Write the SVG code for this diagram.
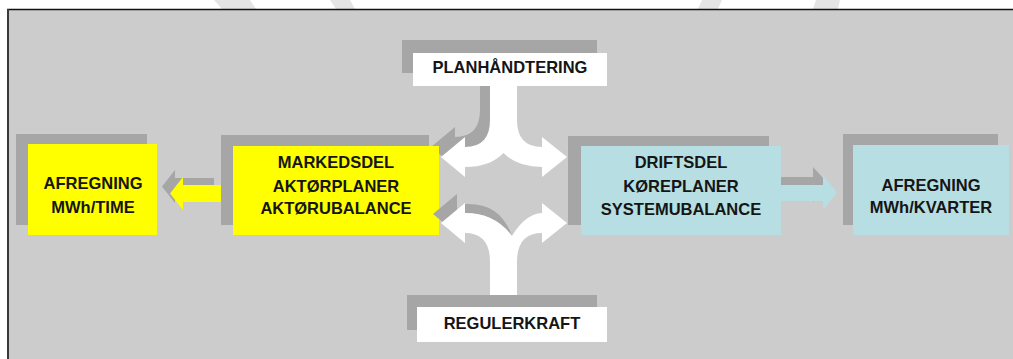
<svg xmlns="http://www.w3.org/2000/svg" width="1013" height="359" viewBox="0 0 1013 359">
<style>
.sh{fill:#a6a6a6}
.wh{fill:#ffffff}
.ye{fill:#ffff00}
.bl{fill:#b7dee2}
.t{font-family:"Liberation Sans",Arial,sans-serif;font-weight:bold;font-size:16.5px;fill:#151515;text-anchor:middle}
.wm{fill:#e4e4e4}
</style>
<rect x="0" y="0" width="1013" height="359" fill="#ffffff"/>
<g id="watermark">
<polygon class="wm" points="214,0 250,0 256,9 222,9"/>
<polygon class="wm" points="330,0 350,0 355,9 336,9"/>
<polygon class="wm" points="702,0 722,0 718,9 698,9"/>
<polygon class="wm" points="816,0 840,0 838,9 813,9"/>
</g>
<g id="frame">
<rect x="8" y="9.5" width="1005" height="350" fill="#cccccc"/>
<line x1="7" y1="9.5" x2="1013" y2="9.5" stroke="#111" stroke-width="1.6"/>
<line x1="8" y1="9" x2="8" y2="359" stroke="#3a3a3a" stroke-width="2"/>
</g>
<g id="connectors">
<path class="sh" d="M214,178 L175,178 L175,170 L162,186.5 L175,203 L175,195 L214,195 Z"/>
<path class="ye" d="M222,185 L183,185 L183,177 L170,193.5 L183,210 L183,202 L222,202 Z"/>
<path class="sh" d="M781,177 L813,177 L813,167 L829,184.5 L813,202 L813,193 L781,193 Z"/>
<path class="bl" d="M781,185 L823,185 L823,175 L837,192.5 L823,210 L823,201 L781,201 Z"/>
</g>
<g id="afregning-time">
<rect class="sh" x="16" y="134" width="131" height="91"/>
<rect class="ye" x="28" y="144" width="129" height="91"/>
<text class="t" x="93" y="189">AFREGNING</text>
<text class="t" x="93" y="213">MWh/TIME</text>
</g>
<g id="markedsdel-shadow">
<rect class="sh" x="221" y="135" width="208" height="90"/>
</g>
<g id="fork-top-shadow">
<path class="sh" d="M480,74 L480,110 Q480,137 455,137 L455,127 L431,147 L455,167 L455,157 Q480,157 494,143 L494,74 Z"/>
</g>
<g id="markedsdel">
<rect class="ye" x="233" y="146" width="206" height="89"/>
<text class="t" x="336" y="168">MARKEDSDEL</text>
<text class="t" x="336" y="191.5">AKTØRPLANER</text>
<text class="t" x="336" y="214">AKTØRUBALANCE</text>
</g>
<g id="driftsdel">
<rect class="sh" x="568" y="136" width="201" height="89"/>
<rect class="bl" x="581" y="146" width="200" height="89"/>
<text class="t" x="681" y="168">DRIFTSDEL</text>
<text class="t" x="681" y="191.5">KØREPLANER</text>
<text class="t" x="681" y="214.5">SYSTEMUBALANCE</text>
</g>
<g id="afregning-kvarter">
<rect class="sh" x="843" y="134" width="155" height="91"/>
<rect class="bl" x="853" y="145" width="156" height="90"/>
<text class="t" x="931" y="191">AFREGNING</text>
<text class="t" x="931" y="213">MWh/KVARTER</text>
</g>
<g id="fork-top">
<path class="wh" d="M490,84 L490,120 Q490,147 465,147 L465,137 L441,157 L465,177 L465,167 Q490,167 503.5,153 Q517,167 542,167 L542,177 L567,157 L542,137 L542,147 Q517,147 517,120 L517,84 Z"/>
</g>
<g id="fork-bottom">
<path class="sh" d="M465,204 Q500,202 512,236 Q495,213 465,213 Z"/>
<path class="sh" d="M457,204 L457,194 L433,214 L457,234 L457,224 Z"/>
<path class="wh" d="M490,298 L490,262 Q490,233 465,233 L465,243 L441,223 L465,203 L465,213 Q495,213 512,236 Q525,214 542,213 L542,203 L567,223 L542,243 L542,233 Q517,233 517,262 L517,298 Z"/>
</g>
<g id="planhandtering">
<rect class="sh" x="402" y="40" width="195" height="33"/>
<rect class="wh" x="413" y="53" width="194" height="33"/>
<text class="t" x="510" y="73">PLANHÅNDTERING</text>
</g>
<g id="regulerkraft">
<rect class="sh" x="407" y="295" width="190" height="35"/>
<rect class="wh" x="417" y="307" width="190" height="35"/>
<text class="t" x="512" y="329">REGULERKRAFT</text>
</g>
</svg>
